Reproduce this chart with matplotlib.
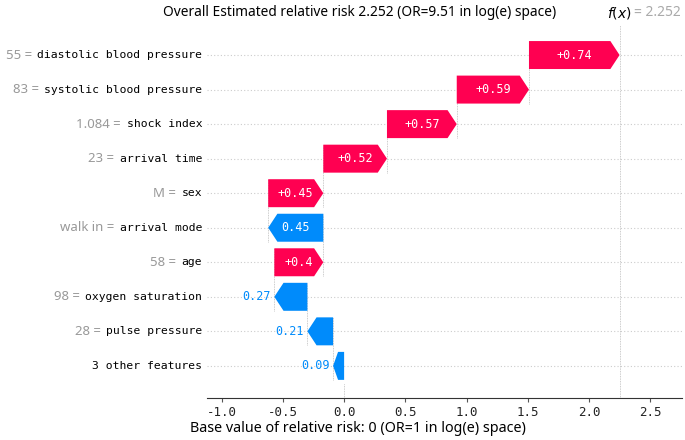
import numpy as np
import matplotlib
matplotlib.use("Agg")
import matplotlib.pyplot as plt
from matplotlib.patches import Polygon
from matplotlib.transforms import offset_copy, blended_transform_factory

# data (top row first)
features = ["diastolic blood pressure", "systolic blood pressure", "shock index",
            "arrival time", "sex", "arrival mode", "age", "oxygen saturation",
            "pulse pressure", "3 other features"]
feature_values = ["55", "83", "1.084", "23", "M", "walk in", "58", "98", "28", ""]
shap_values = [0.74, 0.59, 0.57, 0.52, 0.45, -0.45, 0.40, -0.27, -0.21, -0.09]
bar_labels = ["+0.74", "+0.59", "+0.57", "+0.52", "+0.45", "0.45", "+0.4", "0.27", "0.21", "0.09"]
base_value = 0.0
fx = 2.252
xticks = [-1.0, -0.5, 0.0, 0.5, 1.0, 1.5, 2.0, 2.5]

RED = "#ff0051"
BLUE = "#008bfb"
MONO = "DejaVu Sans Mono"
SANS = "Noto Sans"

fig = plt.figure(figsize=(6.85, 4.4), dpi=100)
ax = fig.add_axes([207 / 685, 1 - 398 / 440, (682 - 207) / 685, (398 - 25) / 440])

n = len(features)
ys = np.arange(n)[::-1]  # top row at n-1
xmin, xmax = -1.12, 2.76
ax.set_xlim(xmin, xmax)
ax.set_ylim(-0.93, n - 1 + 0.87)

# cumulative positions from the bottom (base value) upward
starts = np.zeros(n)
pos = base_value
for i in range(n - 1, -1, -1):
    starts[i] = pos
    pos += shap_values[i]

h = 0.81
px_per_unit = (682 - 207) / (xmax - xmin)

for i in range(n):
    y = ys[i]
    ax.axhline(y, color="#cccccc", lw=0.8, ls=(0, (1, 2)), zorder=0)
    s = starts[i]
    v = shap_values[i]
    e = s + v
    hl = min(0.075, 0.45 * abs(v))
    sgn = np.sign(v)
    pts = [(s, y - h / 2), (e - sgn * hl, y - h / 2), (e, y),
           (e - sgn * hl, y + h / 2), (s, y + h / 2)]
    col = RED if v > 0 else BLUE
    ax.add_patch(Polygon(pts, closed=True, facecolor=col, edgecolor="none", zorder=3))

    # connector to the row above
    if i > 0:
        ax.plot([e, e], [y - h / 2, y + 1 + h / 2], color="#bbbbbb", lw=0.6,
                ls=(0, (1, 1)), zorder=1)

    width_px = abs(v) * px_per_unit
    if width_px > 40:
        ax.text(s + v / 2, y, bar_labels[i], color="white", ha="center", va="center",
                fontsize=8.5, family=MONO, zorder=4)
    else:
        ax.text(e - 0.03, y, bar_labels[i], color=col, ha="right", va="center",
                fontsize=8.5, family=MONO, zorder=4)

# base value and f(x) lines
ax.plot([base_value, base_value], [-0.93, starts[n - 1] - 0.5], color="#bbbbbb", lw=0.6,
        ls=(0, (1, 1)), zorder=1)
ax.axvline(fx, color="#bbbbbb", lw=0.6, ls=(0, (1, 1)), zorder=1)

# axes styling
for sp in ["left", "right", "top"]:
    ax.spines[sp].set_visible(False)
ax.spines["bottom"].set_color("#333333")
ax.set_yticks([])
ax.set_xticks(xticks)
ax.set_xticklabels(["%.1f" % t for t in xticks], family=MONO, fontsize=9, color="#222222")
ax.tick_params(axis="x", length=3, color="#555555", pad=3)

# y labels: gray value + black name
fig.canvas.draw()
renderer = fig.canvas.get_renderer()
for i in range(n):
    t = ax.text(-0.01, ys[i], features[i], transform=blended_transform_factory(ax.transAxes, ax.transData),
                ha="right", va="center", fontsize=8.2, family=MONO, color="black")
    if feature_values[i]:
        bb = t.get_window_extent(renderer)
        w = bb.width * 72 / fig.dpi
        tr = offset_copy(t.get_transform(), fig=fig, x=-w - 4, y=0, units="points")
        ax.text(-0.01, ys[i], feature_values[i] + " =", transform=tr, ha="right", va="center",
                fontsize=9.5, family=SANS, color="#999999")

# f(x) label at top
trx = blended_transform_factory(ax.transData, fig.transFigure)
ax.text(fx, 1 - 13 / 440, "$f(x)$", transform=trx, ha="center", va="center", fontsize=10)
ax.text(fx + 0.12, 1 - 13 / 440, "= 2.252", transform=trx, ha="left", va="center",
        fontsize=10, family=SANS, color="#aaaaaa")

fig.text(360 / 685, 1 - 13 / 440, "Overall Estimated relative risk 2.252 (OR=9.51 in log(e) space)",
         ha="center", va="center", fontsize=9.9, family=SANS)
fig.text(190 / 685, 1 - 428 / 440, "Base value of relative risk: 0 (OR=1 in log(e) space)",
         ha="left", va="center", fontsize=10.3, family=SANS)

fig.savefig("out.png", dpi=100)
